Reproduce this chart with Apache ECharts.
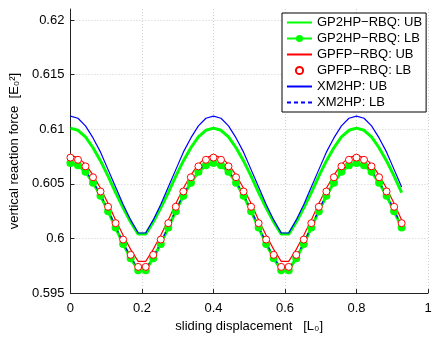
<!DOCTYPE html>
<html>
<head>
<meta charset="utf-8">
<script src="https://cdn.jsdelivr.net/npm/echarts@6/dist/echarts.min.js"></script>
<style>
  html, body { margin: 0; padding: 0; background: #fff; }
  #main { width: 436px; height: 338px; }
</style>
</head>
<body>
<div id="main"></div>
<script>
// sliding displacement [L0]
const xValues = [
  0, 0.0211, 0.0421, 0.0632, 0.0842, 0.1053, 0.1263, 0.1474, 0.1684, 0.1895,
  0.2105, 0.2316, 0.2526, 0.2737, 0.2947, 0.3158, 0.3368, 0.3579, 0.3789,
  0.4, 0.4211, 0.4421, 0.4632, 0.4842, 0.5053, 0.5263, 0.5474, 0.5684, 0.5895,
  0.6105, 0.6316, 0.6526, 0.6737, 0.6947, 0.7158, 0.7368, 0.7579, 0.7789,
  0.8, 0.8211, 0.8421, 0.8632, 0.8842, 0.9053, 0.9263
]
const gp2hpUB = [
  0.6101, 0.6099, 0.6093, 0.6083, 0.6071, 0.6057, 0.6042, 0.6028, 0.6015, 0.6004,
  0.6004, 0.6015, 0.6028, 0.6042, 0.6057, 0.6071, 0.6083, 0.6093, 0.6099,
  0.6101, 0.6099, 0.6093, 0.6083, 0.6071, 0.6057, 0.6042, 0.6028, 0.6015, 0.6004,
  0.6004, 0.6015, 0.6028, 0.6042, 0.6057, 0.6071, 0.6083, 0.6093, 0.6099,
  0.6101, 0.6099, 0.6093, 0.6083, 0.6071, 0.6057, 0.6042
]
const gp2hpLB = [
  0.6069, 0.6067, 0.6061, 0.6051, 0.6039, 0.6025, 0.6010, 0.5995, 0.5982, 0.5971,
  0.5971, 0.5982, 0.5995, 0.6010, 0.6025, 0.6039, 0.6051, 0.6061, 0.6067,
  0.6069, 0.6067, 0.6061, 0.6051, 0.6039, 0.6025, 0.6010, 0.5995, 0.5982, 0.5971,
  0.5971, 0.5982, 0.5995, 0.6010, 0.6025, 0.6039, 0.6051, 0.6061, 0.6067,
  0.6069, 0.6067, 0.6061, 0.6051, 0.6039, 0.6025, 0.6010
]
const gpfpUB = [
  0.6076, 0.6074, 0.6068, 0.6058, 0.6046, 0.6032, 0.6017, 0.6003, 0.5990, 0.5979,
  0.5979, 0.5990, 0.6003, 0.6017, 0.6032, 0.6046, 0.6058, 0.6068, 0.6074,
  0.6076, 0.6074, 0.6068, 0.6058, 0.6046, 0.6032, 0.6017, 0.6003, 0.5990, 0.5979,
  0.5979, 0.5990, 0.6003, 0.6017, 0.6032, 0.6046, 0.6058, 0.6068, 0.6074,
  0.6076, 0.6074, 0.6068, 0.6058, 0.6046, 0.6032, 0.6017
]
const gpfpLB = [
  0.6074, 0.6072, 0.6066, 0.6056, 0.6043, 0.6029, 0.6014, 0.5999, 0.5985, 0.5974,
  0.5974, 0.5985, 0.5999, 0.6014, 0.6029, 0.6043, 0.6056, 0.6066, 0.6072,
  0.6074, 0.6072, 0.6066, 0.6056, 0.6043, 0.6029, 0.6014, 0.5999, 0.5985, 0.5974,
  0.5974, 0.5985, 0.5999, 0.6014, 0.6029, 0.6043, 0.6056, 0.6066, 0.6072,
  0.6074, 0.6072, 0.6066, 0.6056, 0.6043, 0.6029, 0.6014
]
const xm2hpUB = [
  0.6112, 0.6110, 0.6103, 0.6092, 0.6079, 0.6063, 0.6047, 0.6031, 0.6017, 0.6005,
  0.6005, 0.6017, 0.6031, 0.6047, 0.6063, 0.6079, 0.6092, 0.6103, 0.6110,
  0.6112, 0.6110, 0.6103, 0.6092, 0.6079, 0.6063, 0.6047, 0.6031, 0.6017, 0.6005,
  0.6005, 0.6017, 0.6031, 0.6047, 0.6063, 0.6079, 0.6092, 0.6103, 0.6110,
  0.6112, 0.6110, 0.6103, 0.6092, 0.6079, 0.6063, 0.6047
]
const xm2hpLB = [
  0.6070, 0.6068, 0.6062, 0.6052, 0.6040, 0.6026, 0.6011, 0.5996, 0.5983, 0.5972,
  0.5972, 0.5983, 0.5996, 0.6011, 0.6026, 0.6040, 0.6052, 0.6062, 0.6068,
  0.6070, 0.6068, 0.6062, 0.6052, 0.6040, 0.6026, 0.6011, 0.5996, 0.5983, 0.5972,
  0.5972, 0.5983, 0.5996, 0.6011, 0.6026, 0.6040, 0.6052, 0.6062, 0.6068,
  0.6070, 0.6068, 0.6062, 0.6052, 0.6040, 0.6026, 0.6011
]
const seriesNames = ['GP2HP−RBQ: UB', 'GP2HP−RBQ: LB', 'GPFP−RBQ: UB', 'GPFP−RBQ: LB', 'XM2HP: UB', 'XM2HP: LB']

const font = 'Liberation Sans, Arial, Helvetica, sans-serif'

function pairs(ys) {
  return xValues.map((x, i) => [x, ys[i]])
}

const chart = echarts.init(document.getElementById('main'))
chart.setOption({
  animation: false,
  textStyle: { fontFamily: font },
  grid: { left: 65, right: 8, top: 9, bottom: 40 },
  legend: {
    orient: 'vertical',
    left: 282,
    top: 13,
    padding: [3, 4, 3, 4],
    itemGap: 3,
    itemWidth: 25,
    itemHeight: 9,
    backgroundColor: '#fff',
    borderColor: '#000',
    borderWidth: 1,
    textStyle: { fontFamily: font, fontSize: 13, color: '#000' },
    data: [
      { name: seriesNames[0], itemStyle: { opacity: 0 } },
      { name: seriesNames[1] },
      { name: seriesNames[2], itemStyle: { opacity: 0 } },
      { name: seriesNames[3], lineStyle: { opacity: 0 } },
      { name: seriesNames[4], itemStyle: { opacity: 0 } },
      { name: seriesNames[5], itemStyle: { opacity: 0 } },
    ],
  },
  xAxis: {
    type: 'value',
    min: 0,
    max: 1,
    interval: 0.2,
    name: 'sliding displacement   [L₀]',
    nameLocation: 'middle',
    nameGap: 15,
    nameTextStyle: { fontFamily: font, fontSize: 13, color: '#000' },
    axisLine: { lineStyle: { color: '#222', width: 1 } },
    axisTick: { inside: true, length: 4, lineStyle: { color: '#222' } },
    axisLabel: { margin: 9, fontSize: 13, color: '#000', fontFamily: font },
    splitLine: { show: true, lineStyle: { color: '#cfcfcf', type: [1, 2] } },
  },
  yAxis: {
    type: 'value',
    min: 0.595,
    max: 0.621,
    interval: 0.005,
    name: 'vertical reaction force  [E₀²]',
    nameLocation: 'middle',
    nameGap: 45,
    nameTextStyle: { fontFamily: font, fontSize: 13, color: '#000' },
    axisLine: { show: true, lineStyle: { color: '#222', width: 1 } },
    axisTick: { show: true, inside: true, length: 4, lineStyle: { color: '#222' } },
    axisLabel: {
      margin: 6,
      fontSize: 13,
      color: '#000',
      fontFamily: font,
      showMaxLabel: false,
      formatter: (v) => String(+v.toFixed(3)),
    },
    splitLine: { show: true, showMaxLine: false, lineStyle: { color: '#cfcfcf', type: [1, 2] } },
  },
  series: [
    {
      name: seriesNames[0],
      type: 'line',
      data: pairs(gp2hpUB),
      symbol: 'none',
      lineStyle: { color: '#00ff00', width: 3 },
      itemStyle: { color: '#00ff00' },
    },
    {
      name: seriesNames[1],
      type: 'line',
      data: pairs(gp2hpLB),
      symbol: 'circle',
      symbolSize: 8,
      showAllSymbol: true,
      lineStyle: { color: '#00ff00', width: 3 },
      itemStyle: { color: '#00ff00' },
    },
    {
      name: seriesNames[2],
      type: 'line',
      data: pairs(gpfpUB),
      symbol: 'none',
      lineStyle: { color: '#ff0000', width: 1.2 },
      itemStyle: { color: '#ff0000' },
    },
    {
      name: seriesNames[3],
      type: 'line',
      data: pairs(gpfpLB),
      symbol: 'circle',
      symbolSize: 7,
      showAllSymbol: true,
      lineStyle: { opacity: 0 },
      itemStyle: { color: '#fff', borderColor: '#ff0000', borderWidth: 1 },
    },
    {
      name: seriesNames[4],
      type: 'line',
      data: pairs(xm2hpUB),
      symbol: 'none',
      lineStyle: { color: '#0000ff', width: 1.2 },
      itemStyle: { color: '#0000ff' },
    },
    {
      name: seriesNames[5],
      type: 'line',
      data: pairs(xm2hpLB),
      symbol: 'none',
      lineStyle: { color: '#0000ff', width: 1.2, type: [4, 3] },
      itemStyle: { color: '#0000ff' },
    },
  ],
})
</script>
</body>
</html>
